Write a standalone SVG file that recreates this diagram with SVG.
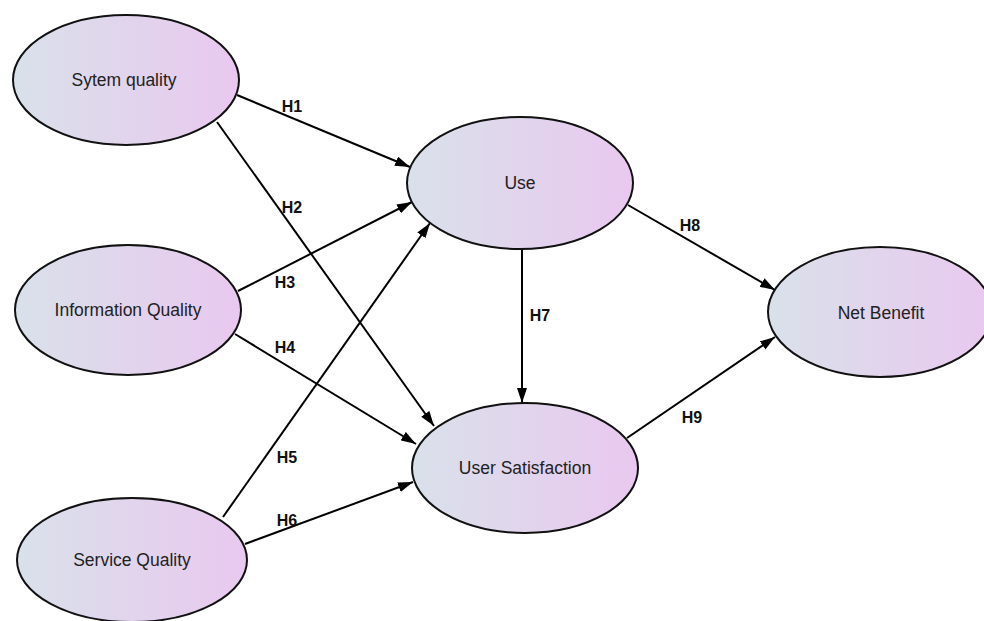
<svg xmlns="http://www.w3.org/2000/svg" width="984" height="621" viewBox="0 0 984 621">
<defs>
<linearGradient id="g" x1="0" y1="0" x2="1" y2="0">
<stop offset="0" stop-color="#d9e1ea"/>
<stop offset="1" stop-color="#e9c8ef"/>
</linearGradient>
<marker id="arr" viewBox="0 0 15 10" refX="15" refY="5" markerWidth="15" markerHeight="10" markerUnits="userSpaceOnUse" orient="auto">
<path d="M0,0 L15,5 L0,10 Z" fill="#000"/>
</marker>
<style>
.n ellipse{fill:url(#g);stroke:#111;stroke-width:2}
.n text{font-family:"Liberation Sans",Arial,sans-serif;font-size:17.5px;fill:#222;text-anchor:middle;dominant-baseline:central}
.e line{stroke:#000;stroke-width:2;marker-end:url(#arr)}
.l{font-family:"Liberation Sans",Arial,sans-serif;font-size:16px;font-weight:bold;fill:#111;text-anchor:middle;dominant-baseline:central}
</style>
</defs>
<rect width="984" height="621" fill="#fff"/>
<g id="connectors" class="e">
<line x1="237" y1="95" x2="410" y2="167"/>
<line x1="217" y1="122" x2="434" y2="426"/>
<line x1="238" y1="291" x2="412" y2="202"/>
<line x1="235" y1="334" x2="416" y2="444"/>
<line x1="223" y1="517" x2="430" y2="223"/>
<line x1="245" y1="544" x2="413" y2="482"/>
<line x1="522" y1="247" x2="522" y2="403"/>
<line x1="628" y1="205" x2="775" y2="290"/>
<line x1="627" y1="438" x2="775" y2="337"/>
</g>
<g id="labels">
<text class="l" x="292" y="106">H1</text>
<text class="l" x="292" y="207">H2</text>
<text class="l" x="285" y="282">H3</text>
<text class="l" x="285" y="347">H4</text>
<text class="l" x="287" y="457">H5</text>
<text class="l" x="287" y="520">H6</text>
<text class="l" x="540" y="315">H7</text>
<text class="l" x="690" y="225">H8</text>
<text class="l" x="692" y="417">H9</text>
</g>
<g id="sytem-quality" class="n"><ellipse cx="126" cy="80" rx="113" ry="65"/><text x="124" y="80">Sytem quality</text></g>
<g id="information-quality" class="n"><ellipse cx="128" cy="310" rx="113" ry="65"/><text x="128" y="310">Information Quality</text></g>
<g id="service-quality" class="n"><ellipse cx="132" cy="560" rx="115" ry="62"/><text x="132" y="560">Service Quality</text></g>
<g id="use" class="n"><ellipse cx="520" cy="183" rx="113" ry="66"/><text x="520" y="183">Use</text></g>
<g id="user-satisfaction" class="n"><ellipse cx="525" cy="468" rx="113" ry="65"/><text x="525" y="468">User Satisfaction</text></g>
<g id="net-benefit" class="n"><ellipse cx="880" cy="312" rx="112" ry="65"/><text x="881" y="313">Net Benefit</text></g>
</svg>
